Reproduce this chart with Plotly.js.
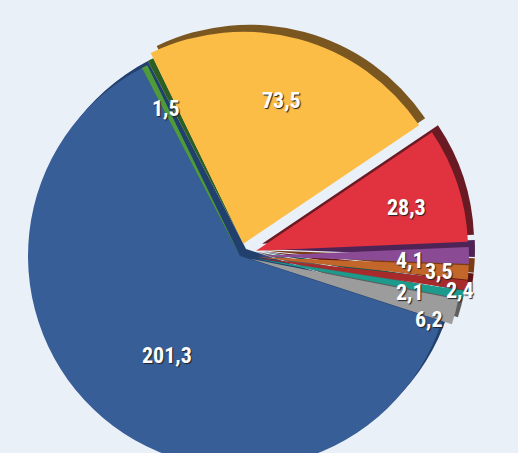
<!DOCTYPE html>
<html>
<head>
<meta charset="utf-8">
<script src="https://cdn.plot.ly/plotly-3.0.1.min.js"></script>
<style>
html,body{margin:0;padding:0;overflow:hidden;background:#eaf0f8;}
#chart{width:518px;height:560px;}
</style>
</head>
<body>
<div id="chart"></div>
<script>
// data
const labels = ["A","B","C","D","E","F","G","H","I"];
const values = [201.3, 1.5, 73.5, 28.3, 4.1, 3.5, 2.4, 2.1, 6.2];
const textLabels = ["201,3","1,5","73,5","28,3","4,1","3,5","2,4","2,1","6,2"];

// styles
const colors = ["#385e98","#4f9a3a","#fbbd45","#e0323f","#8a4a94","#c2662a","#a82b2b","#1c9a8c","#9c9c9c"];
const rimColors = ["#22406e","#2d5e22","#7a5620","#6a1a22","#4e2456","#7a3c14","#5e1414","#0e5a50","#5e5e5e"];
const pulls = [0, 0, 0.06, 0.08, 0.08, 0.08, 0.08, 0.07, 0.05];
const labelR = [0.58, 0.78, 0.76, 0.82, 0.80, 0.94, 1.05, 0.82, 0.94];
const labelDA = [-4, 0, 0, 2, 1.8, 0.2, 1.5, 2.2, 4.1];

const W = 518, H = 560, R = 212, CX = 240, CY = 256, ROT = 108;
const box = 2 * R * (1 + Math.max(...pulls));

function dom(cx, cy) {
  return {
    x: [(cx - box / 2) / W, (cx + box / 2) / W],
    y: [1 - (cy + box / 2) / H, 1 - (cy - box / 2) / H]
  };
}

const common = {
  type: "pie", labels: labels, values: values, pull: pulls,
  sort: false, direction: "clockwise", rotation: ROT,
  hoverinfo: "none", showlegend: false, textinfo: "none"
};

const shadow = Object.assign({}, common, {
  marker: {colors: rimColors, line: {width: 0}},
  domain: dom(CX + 6, CY - 7)
});
const main = Object.assign({}, common, {
  marker: {colors: colors, line: {width: 0}},
  domain: dom(CX, CY)
});

// label positions derived from the values (slice mid-angles)
const total = values.reduce((a, b) => a + b, 0);
let cum = 0;
const annotations = values.map((v, i) => {
  const mid = ROT + (cum + v / 2) / total * 360 + labelDA[i];
  cum += v;
  const t = mid * Math.PI / 180;
  const px = CX + labelR[i] * R * Math.sin(t);
  const py = CY - labelR[i] * R * Math.cos(t);
  return {
    xref: "paper", yref: "paper", x: px / W, y: 1 - py / H,
    xanchor: "center", yanchor: "middle", showarrow: false,
    text: textLabels[i],
    font: {family: "Roboto Condensed, Liberation Sans Narrow, Roboto, sans-serif", size: 22, color: "#ffffff", weight: "bold", shadow: "1px 1px 1px #222"}
  };
});

Plotly.newPlot("chart", [shadow, main], {
  width: W, height: H,
  margin: {l: 0, r: 0, t: 0, b: 0},
  paper_bgcolor: "#eaf0f8",
  annotations: annotations
}, {displayModeBar: false, staticPlot: true});
</script>
</body>
</html>
